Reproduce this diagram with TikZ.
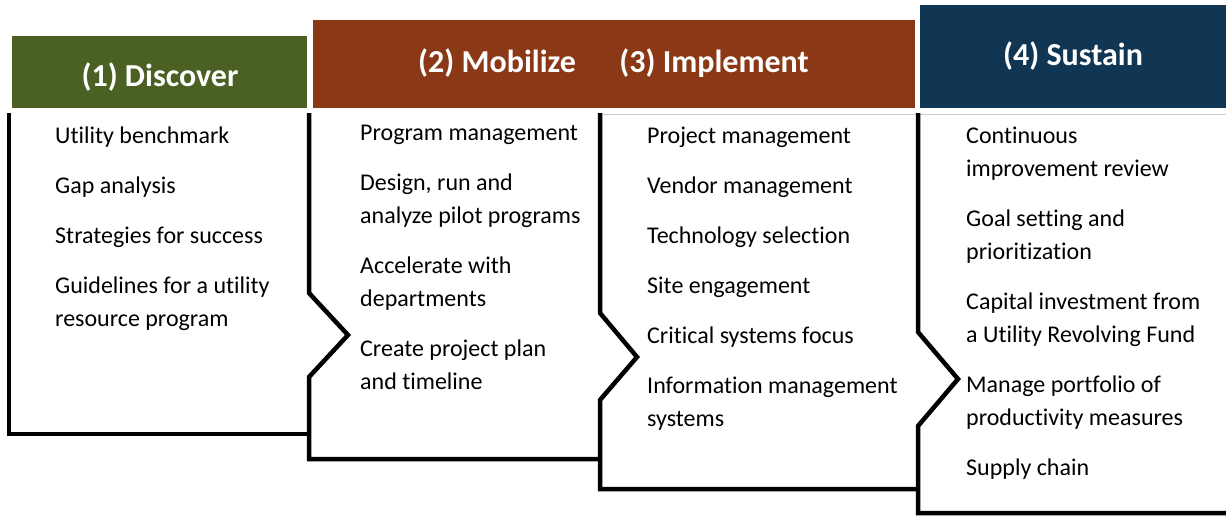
\documentclass[tikz,border=0pt]{standalone}
\usepackage{fontspec}
\setmainfont{Carlito}[Ligatures=NoCommon]
\usepackage{tikz}
\usetikzlibrary{positioning,calc}
\definecolor{discgreen}{RGB}{74,97,35}
\definecolor{mobbrown}{RGB}{138,56,21}
\definecolor{susblue}{RGB}{17,54,84}

\begin{document}
\begin{tikzpicture}[x=1pt,y=-1pt,
        head/.style={text=white,inner sep=0pt,text height=24pt,text depth=6pt,
        font=\fontsize{32}{38}\selectfont\bfseries},
        items/.style={anchor=north west,align=left,inner sep=0pt,
        font=\fontsize{24}{33}\selectfont},
        border/.style={line width=4.5pt,line join=miter}]
        \useasboundingbox (0,0) rectangle (1226,515);

        % Header bars
        \fill[discgreen] (12,36) rectangle (307,108);
        \fill[mobbrown] (313,20) rectangle (915,108);
        \fill[susblue] (920,5) rectangle (1226,108);
        \draw[gray!40,line width=0.8pt] (603,114) -- (1226,114);

        \node[head] (h1) at (160,77) {(1) Discover};
        \node[head] (h2) at (497,63) {(2) Mobilize};
        \node[head] (h3) at (714,63) {(3) Implement};
        \node[head] (h4) at (1073,56) {(4) Sustain};

        % Panel outlines
        \draw[border] (9,113) -- (9,434) -- (309,434);
        \draw[border] (309,113) -- (309,293) -- (348,335) -- (309,377) -- (309,459) -- (600,459);
        \draw[border] (600,113) -- (600,313) -- (637,357) -- (600,400) -- (600,489) -- (918,489);
        \draw[border] (918,113) -- (918,332) -- (958,379) -- (918,426) -- (918,513) -- (1226,513);

        % Discover
        \node[items] (l1) at (55,120) {\strut Utility benchmark\\[17pt]Gap analysis\\[17pt]Strategies for success\\[17pt]Guidelines for a utility\\resource program};
        % Mobilize
        \node[items] (l2) at (360,117) {\strut Program management\\[17pt]Design, run and\\analyze pilot programs\\[17pt]Accelerate with\\departments\\[17pt]Create project plan\\and timeline};
        % Implement
        \node[items] (l3) at (647,120) {\strut Project management\\[17pt]Vendor management\\[17pt]Technology selection\\[17pt]Site engagement\\[17pt]Critical systems focus\\[17pt]Information management\\systems};
        % Sustain
        \node[items] (l4) at (966,120) {\strut Continuous\\improvement review\\[17pt]Goal setting and\\prioritization\\[17pt]Capital investment from\\a Utility Revolving Fund\\[17pt]Manage portfolio of\\productivity measures\\[17pt]Supply chain};

    \end{tikzpicture}
\end{document}
